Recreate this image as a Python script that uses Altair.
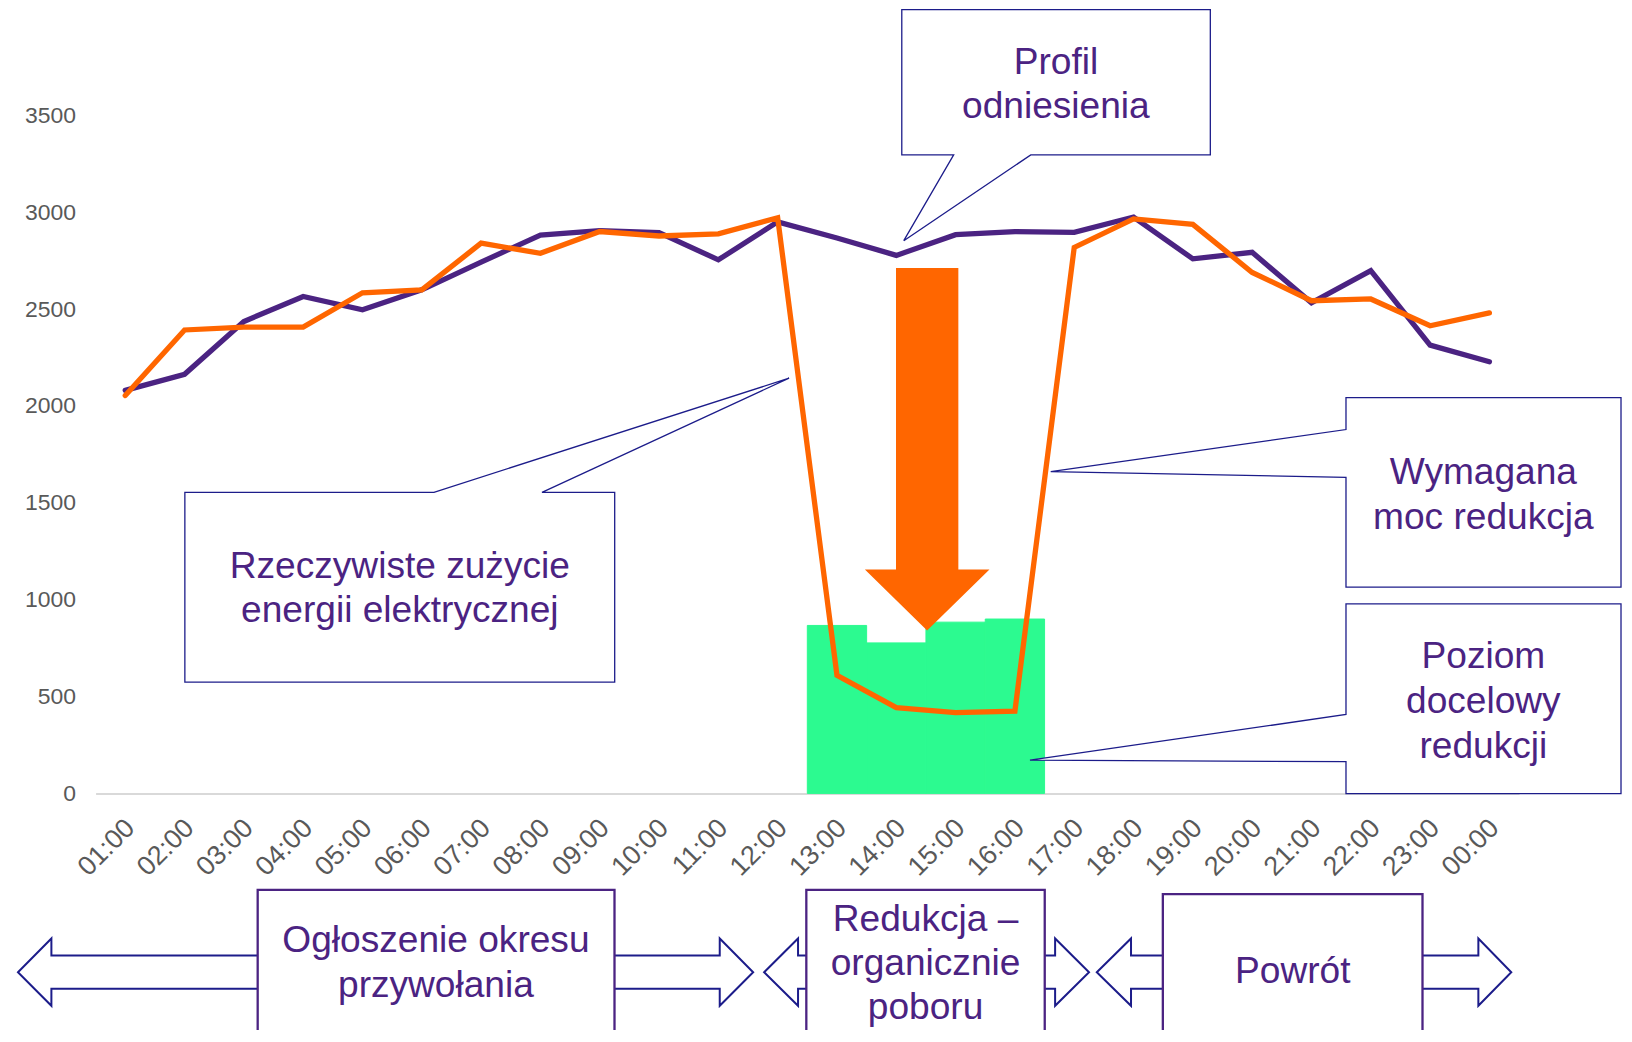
import altair as alt
import pandas as pd

# ---------------- data ----------------
hours = ["01:00", "02:00", "03:00", "04:00", "05:00", "06:00", "07:00", "08:00",
         "09:00", "10:00", "11:00", "12:00", "13:00", "14:00", "15:00", "16:00",
         "17:00", "18:00", "19:00", "20:00", "21:00", "22:00", "23:00", "00:00"]
profil = [2080, 2163, 2436, 2565, 2496, 2599, 2742, 2882, 2905, 2895, 2754, 2950,
          2867, 2777, 2884, 2900, 2896, 2975, 2759, 2793, 2532, 2698, 2314, 2228]
rzeczywiste = [2054, 2392, 2407, 2407, 2584, 2599, 2840, 2788, 2900, 2877, 2888, 2971,
               609, 443, 417, 425, 2818, 2965, 2937, 2689, 2543, 2552, 2414, 2480]
poziom = [None] * 12 + [867, 777, 884, 900] + [None] * 8
y_ticks = [0, 500, 1000, 1500, 2000, 2500, 3000, 3500]

df = pd.DataFrame({"hour": hours, "profil": profil, "rzecz": rzeczywiste, "cel": poziom})

# ---------------- styles ----------------
FONT = "Liberation Sans"
PURPLE = "#4B2382"
ORANGE = "#FF6600"
GREEN = "#2CFA90"
NAVY = "#1C1C8A"
GREY = "#595959"
TXT = 37.2

# layout (page pixels)
X0, Y0 = 95.8, 114.3          # plot origin on the page
W, H = 1427, 679.8            # plot size
SVG_W, SVG_H = 1620, 1022
PAD = {"left": X0 - 8, "top": Y0 - 8, "right": SVG_W - W - (X0 - 8), "bottom": SVG_H - H - (Y0 - 8)}


def px(x):
    return x - X0


def py(y):
    return y - Y0


def path(points):
    return "M" + " L".join(f"{px(x):.1f},{py(y):.1f}" for x, y in points) + " Z"


one = pd.DataFrame({"k": [0]})

axis_x = alt.Axis(title=None, labelAngle=-45, labelFontSize=27, labelColor=GREY, labelFont=FONT,
                  ticks=False, domainColor="#D9D9D9", domainWidth=2, grid=False, labelPadding=21,
                  labelOffset=-4)
axis_y = alt.Axis(title=None, values=y_ticks, format="d", labelFontSize=23, labelColor=GREY,
                  labelFont=FONT, ticks=False, domain=False, grid=False, labelPadding=20)
xenc = alt.X("hour:N", sort=hours, scale=alt.Scale(paddingInner=0, paddingOuter=0), axis=axis_x)
yscale = alt.Scale(domain=[0, 3500], nice=False)

base = alt.Chart(df)
bars = base.mark_bar(color=GREEN, stroke=GREEN, strokeWidth=1).encode(
    x=xenc, y=alt.Y("cel:Q", scale=yscale, axis=axis_y))
line_p = base.mark_line(color=PURPLE, strokeWidth=5.3, strokeCap="round").encode(
    x=xenc, y=alt.Y("profil:Q", scale=yscale, axis=axis_y))
line_r = base.mark_line(color=ORANGE, strokeWidth=5.3, strokeCap="round").encode(
    x=xenc, y=alt.Y("rzecz:Q", scale=yscale, axis=axis_y))


def shape_layer(points, fill, stroke=None, sw=0):
    kw = dict(shape=path(points), size=4, filled=True, fill=fill, opacity=1, fillOpacity=1)
    if stroke:
        kw.update(stroke=stroke, strokeWidth=sw, strokeOpacity=1)
    else:
        kw.update(strokeWidth=0)
    return alt.Chart(one).mark_point(**kw).encode(x=alt.value(0), y=alt.value(0))


def text_layer(lines, cx, y, lh=45, size=TXT):
    return alt.Chart(one).mark_text(text=lines, font=FONT, fontSize=size, color=PURPLE,
                                    align="center", baseline="alphabetic", lineHeight=lh).encode(
        x=alt.value(px(cx)), y=alt.value(py(y)))


def box_layer(l, r, t, b):
    return alt.Chart(one).mark_rect(fill="white", stroke=PURPLE, strokeWidth=2.3).encode(
        x=alt.value(px(l)), x2=alt.value(px(r)), y=alt.value(py(t)), y2=alt.value(py(b)))


# big orange arrow
arrow = shape_layer([(898.2, 267.4), (960.7, 267.4), (960.7, 569.5), (991.9, 569.5),
                     (929.4, 630.7), (867.0, 569.5), (898.2, 569.5)], ORANGE)

# callouts
c_profil = shape_layer([(904, 8.3), (1213.3, 8.3), (1213.3, 154), (1033.3, 154), (906, 240),
                        (956, 154), (904, 154)], "white", NAVY, 1.3)
c_rzecz = shape_layer([(185.3, 492.3), (435, 492.3), (791, 377.8), (543.3, 492.3), (616.2, 492.3),
                       (616.2, 682.5), (185.3, 682.5)], "white", NAVY, 1.3)
c_wym = shape_layer([(1349.3, 397.3), (1625, 397.3), (1625, 587.3), (1349.3, 587.3), (1349.3, 477.3),
                     (1053.3, 471.5), (1349.3, 429.3)], "white", NAVY, 1.3)
c_poz = shape_layer([(1349.3, 604), (1625, 604), (1625, 794.3), (1349.3, 794.3), (1349.3, 762.3),
                     (1032.5, 760.7), (1349.3, 715)], "white", NAVY, 1.3)

t_profil = text_layer(["Profil", "odniesienia"], 1058.5, 72.7, 44.6)
t_rzecz = text_layer(["Rzeczywiste zużycie", "energii elektrycznej"], 400.8, 578, 44.7)
t_wym = text_layer(["Wymagana", "moc redukcja"], 1487, 484, 45.3)
t_poz = text_layer(["Poziom", "docelowy", "redukcji"], 1487, 668.3, 45)


# bottom double arrows
def darrow(tl, bl, br, tr, cy=973.3, ht=939.5, hb=1007, st=956.7, sb=990):
    return shape_layer([(tl, cy), (bl, ht), (bl, st), (br, st), (br, ht), (tr, cy), (br, hb),
                        (br, sb), (bl, sb), (bl, hb)], "white", NAVY, 2)


a1 = darrow(18, 51.5, 721.5, 755)
a2 = darrow(766, 800, 1057.7, 1091.7)
a3 = darrow(1099.5, 1133.8, 1482, 1515)

b1 = box_layer(258.3, 616, 890.7, 1041)
b2 = box_layer(808.3, 1047.3, 890.7, 1041)
b3 = box_layer(1165.7, 1426, 895, 1041)

t1 = text_layer(["Ogłoszenie okresu", "przywołania"], 437, 953.3, 45)
t2 = text_layer(["Redukcja –", "organicznie", "poboru"], 927.8, 932, 44.3)
t3 = text_layer(["Powrót"], 1296, 984, 45)

chart = alt.layer(
    bars, line_p, line_r, arrow,
    c_profil, c_rzecz, c_wym, c_poz,
    t_profil, t_rzecz, t_wym, t_poz,
    a1, a2, a3, b1, b2, b3, t1, t2, t3,
).properties(
    width=W, height=H,
    autosize=alt.AutoSizeParams(type="none"),
    padding=PAD,
).configure(font=FONT, background="white").configure_view(stroke=None)

chart.save("out.html", embed_options={"renderer": "svg", "actions": False})
